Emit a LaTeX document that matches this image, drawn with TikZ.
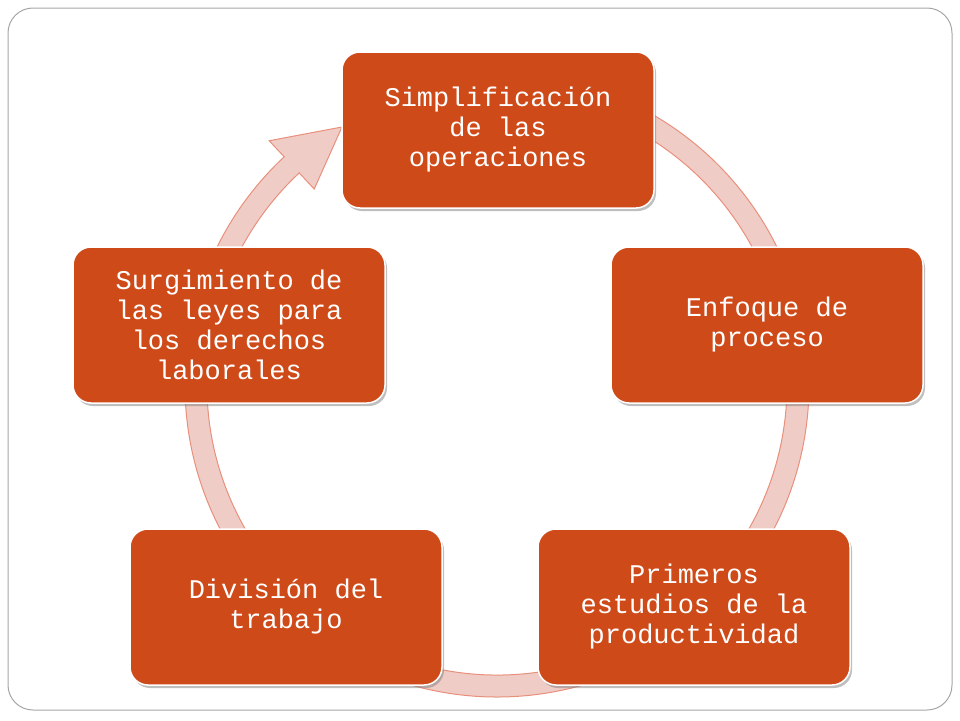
\documentclass[tikz,border=0pt]{standalone}
\usepackage{fontspec}
\setmonofont{Liberation Mono}
\usetikzlibrary{shadows}
\begin{document}
\begin{tikzpicture}[x=1pt,y=1pt,
  box/.style={draw=white,line width=1.5pt,fill=boxc,rounded corners=18pt,minimum width=312pt,minimum height=156pt,align=center,text=white,font=\ttfamily\fontsize{27}{30}\selectfont,drop shadow={shadow xshift=2pt,shadow yshift=-3pt,opacity=0.5}},
  ring/.style={fill=ringc,draw=ringb,line width=1pt}]
\definecolor{boxc}{HTML}{CF4A19}
\definecolor{ringc}{HTML}{F0CCC6}
\definecolor{ringb}{HTML}{E8907C}
\useasboundingbox (0,0) rectangle (960,-720);
\draw[gray!70,line width=1pt,rounded corners=25pt] (8,-8) rectangle (952,-710);
\path[ring,shift={(497,-385)}] (133:290) -- (133:268) -- (121:301) -- (133:334) -- (133:312)
  arc[start angle=133,end angle=440,radius=312] -- (440:290)
  arc[start angle=440,end angle=133,radius=290] -- cycle;
\node[box] (t) at (498,-130) {Simplificación\\de las\\operaciones};
\node[box] (r) at (767,-325) {Enfoque de\\proceso};
\node[box] (br) at (694,-607) {Primeros\\estudios de la\\productividad};
\node[box] (bl) at (286,-607) {División del\\trabajo};
\node[box] (l) at (229,-325) {Surgimiento de\\las leyes para\\los derechos\\laborales};
\end{tikzpicture}
\end{document}
